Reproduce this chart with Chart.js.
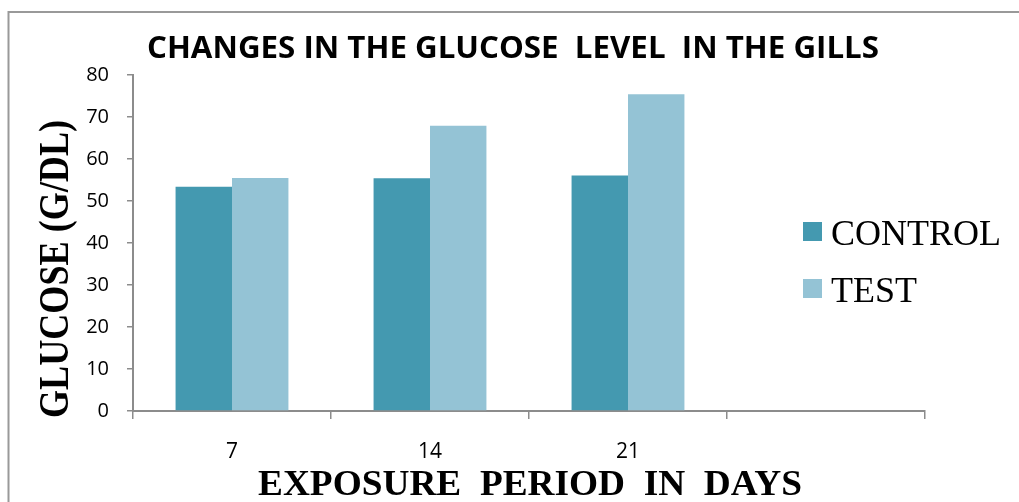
<!DOCTYPE html>
<html>
<head>
<meta charset="utf-8">
<script src="https://cdn.jsdelivr.net/npm/chart.js@4/dist/chart.umd.min.js"></script>
<style>
html,body{margin:0;padding:0;background:#fff;}
#c{display:block;}
</style>
</head>
<body>
<canvas id="c" width="1019" height="502"></canvas>
<script>
// ---- data ----
const categories = ['7', '14', '21', ''];
const controlValues = [53.4, 55.4, 56.1, null];
const testValues = [55.5, 67.9, 75.4, null];
const seriesNames = ['CONTROL', 'TEST'];
const yTicks = [0, 10, 20, 30, 40, 50, 60, 70, 80];
const chartTitle = 'CHANGES IN THE GLUCOSE  LEVEL  IN THE GILLS';
const xTitle = 'EXPOSURE  PERIOD  IN  DAYS';
const yTitle = 'GLUCOSE (G/DL)';

const colControl = '#4499b0';
const colTest = '#94c3d5';
const axisGray = '#8c8c8c';

function fitText(ctx, text, cx, baseY, width) {
  const w = ctx.measureText(text).width;
  ctx.save();
  ctx.translate(cx, baseY);
  ctx.scale(width / w, 1);
  ctx.textAlign = 'center';
  ctx.textBaseline = 'alphabetic';
  ctx.fillText(text, 0, 0);
  ctx.restore();
}

const decor = {
  id: 'decor',
  beforeDraw(chart) {
    const ctx = chart.ctx;
    ctx.save();
    ctx.fillStyle = '#fff';
    ctx.fillRect(0, 0, chart.width, chart.height);
    ctx.strokeStyle = '#999';
    ctx.lineWidth = 2;
    ctx.beginPath();
    ctx.moveTo(8.5, chart.height);
    ctx.lineTo(8.5, 12);
    ctx.lineTo(chart.width, 12);
    ctx.stroke();
    ctx.restore();
  },
  afterDraw(chart) {
    const ctx = chart.ctx;
    ctx.save();
    ctx.fillStyle = '#000';
    // title
    ctx.font = 'bold 30px "Open Sans"';
    fitText(ctx, chartTitle, 513, 58, 732);
    // x title
    ctx.font = 'bold 36px "Liberation Serif"';
    fitText(ctx, xTitle, 530, 495, 544);
    // y title
    ctx.save();
    ctx.translate(68, 269);
    ctx.rotate(-Math.PI / 2);
    ctx.font = 'bold 43px "Liberation Serif"';
    fitText(ctx, yTitle, 0, 0, 298);
    ctx.restore();
    // legend
    const ds = chart.data.datasets;
    const baselines = [245, 301.5];
    const boxes = [222, 279];
    ctx.font = '36px "Liberation Serif"';
    ctx.textAlign = 'left';
    ctx.textBaseline = 'alphabetic';
    ds.forEach((d, i) => {
      ctx.fillStyle = d.backgroundColor;
      ctx.fillRect(803, boxes[i], 19, 19);
      ctx.fillStyle = '#000';
      ctx.fillText(d.label, 831, baselines[i]);
    });
    ctx.restore();
  }
};

new Chart(document.getElementById('c'), {
  type: 'bar',
  data: {
    labels: categories,
    datasets: [
      { label: seriesNames[0], data: controlValues, backgroundColor: colControl },
      { label: seriesNames[1], data: testValues, backgroundColor: colTest }
    ]
  },
  options: {
    responsive: false,
    animation: false,
    devicePixelRatio: 1,
    layout: { padding: { top: 75, right: 94, left: 0, bottom: 0 } },
    datasets: { bar: { categoryPercentage: 0.57, barPercentage: 1.0 } },
    plugins: { legend: { display: false }, tooltip: { enabled: false }, title: { display: false } },
    scales: {
      x: {
        grid: { drawOnChartArea: false, drawTicks: true, tickLength: 8, color: axisGray, lineWidth: 1.5, offset: true },
        border: { color: axisGray, width: 2 },
        ticks: { color: '#000', font: { family: '"Open Sans"', size: 21 }, padding: 20, maxRotation: 0 },
        afterFit(s) { s.height = 91; }
      },
      y: {
        min: 0, max: 80,
        afterBuildTicks(s) { s.ticks = yTicks.map(v => ({ value: v })); },
        grid: { drawOnChartArea: false, drawTicks: true, tickLength: 6, color: axisGray, lineWidth: 1.5 },
        border: { color: axisGray, width: 2 },
        ticks: { color: '#000', font: { family: '"Open Sans"', size: 20 }, padding: 18 },
        afterFit(s) { s.width = 133; }
      }
    }
  },
  plugins: [decor]
});
</script>
</body>
</html>
